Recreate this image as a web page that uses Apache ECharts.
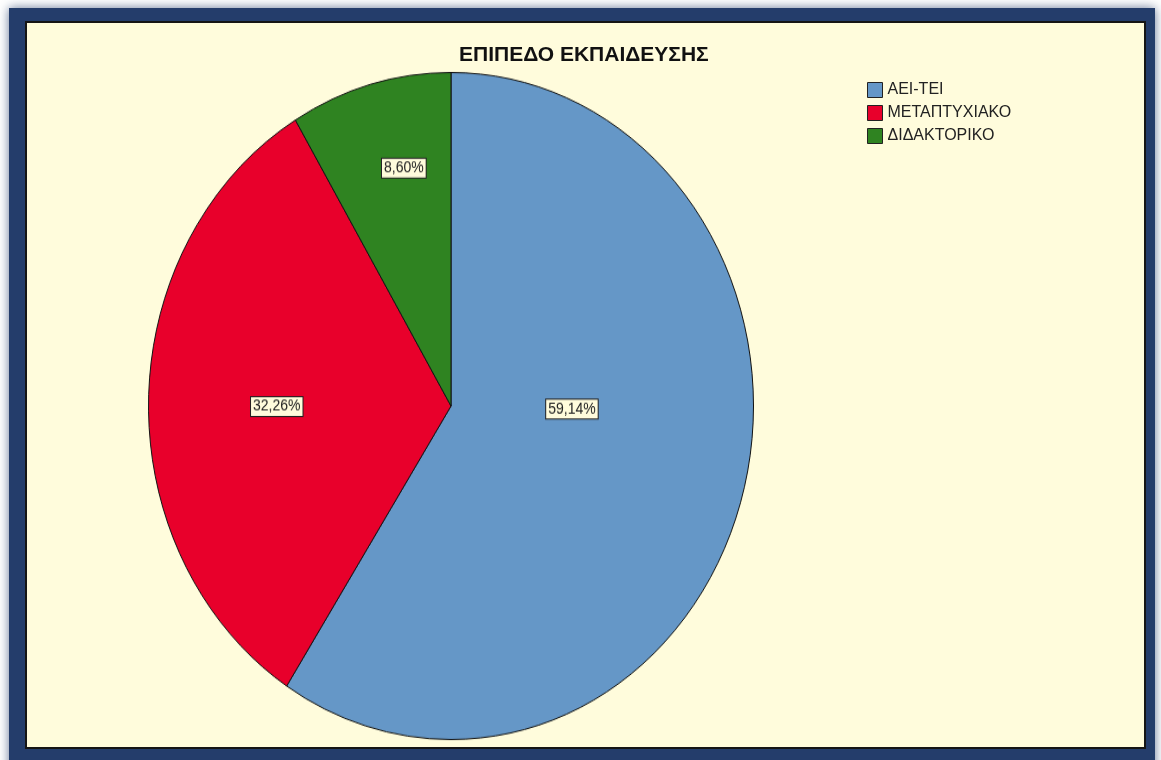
<!DOCTYPE html>
<html>
  <head>
    <meta charset="UTF-8">
    <script src="https://cdn.jsdelivr.net/npm/echarts@6/dist/echarts.min.js"></script>
    <title>ΕΠΙΠΕΔΟ ΕΚΠΑΙΔΕΥΣΗΣ</title>
    <style>
      body { margin: 0; background: #ffffff; }
      #wrap { position: relative; width: 1161px; height: 760px; overflow: hidden; }
      #main, #pie { position: absolute; left: 0; top: 0; width: 1161px; height: 760px; }
      /* SPSS draws the pie as an ellipse, so stretch the pie layer vertically */
      #pie { transform: scaleY(1.1025); transform-origin: 451px 406px; }
    </style>
  </head>
  <body>
    <div id="wrap">
      <div id="main"></div>
      <div id="pie"></div>
    </div>
    <script type="text/javascript">
      var chartTitle = 'ΕΠΙΠΕΔΟ ΕΚΠΑΙΔΕΥΣΗΣ';
      var categories = ['ΑΕΙ-ΤΕΙ', 'ΜΕΤΑΠΤΥΧΙΑΚΟ', 'ΔΙΔΑΚΤΟΡΙΚΟ'];
      var percents = [59.14, 32.26, 8.60];
      var colors = ['#6597c7', '#e8002b', '#2f8321'];

      var font = '"Liberation Sans", Arial, sans-serif';

      function pieData() {
        return categories.map(function (name, i) {
          return { name: name, value: percents[i], itemStyle: { color: colors[i] } };
        });
      }

      // background frame, title and legend
      var mainChart = echarts.init(document.getElementById('main'));
      mainChart.setOption({
        animation: false,
        title: {
          text: chartTitle,
          left: 459,
          top: 45,
          padding: 0,
          textStyle: { fontFamily: font, fontSize: 21, fontWeight: 'bold', color: '#111' }
        },
        legend: {
          orient: 'vertical',
          left: 867,
          top: 82,
          padding: 0,
          itemWidth: 15,
          itemHeight: 15,
          itemGap: 7,
          icon: 'rect',
          selectedMode: false,
          itemStyle: { borderColor: '#222', borderWidth: 1 },
          textStyle: { fontFamily: font, fontSize: 16, color: '#222' },
          data: categories
        },
        graphic: [
          {
            type: 'rect', z: -10,
            shape: { x: 9, y: 8, width: 1146, height: 770 },
            style: { fill: '#243d6b', shadowBlur: 10, shadowColor: 'rgba(36,61,107,0.7)' }
          },
          {
            type: 'rect', z: -9,
            shape: { x: 26, y: 22, width: 1119, height: 726 },
            style: { fill: '#fffcdc', stroke: '#151515', lineWidth: 2 }
          }
        ],
        series: [{
          type: 'pie',
          silent: true,
          center: [451, 406],
          radius: 0,
          label: { show: false },
          data: pieData()
        }]
      });

      // the pie itself
      var pieChart = echarts.init(document.getElementById('pie'));
      pieChart.setOption({
        animation: false,
        series: [{
          type: 'pie',
          center: [451, 406],
          radius: 302.5,
          startAngle: 90,
          clockwise: true,
          itemStyle: { borderColor: '#111', borderWidth: 1 },
          label: {
            show: true,
            position: 'inside',
            formatter: function (p) { return p.value.toFixed(2).replace('.', ',') + '%'; },
            fontFamily: font,
            fontSize: 14,
            color: '#222',
            backgroundColor: '#fffcdc',
            borderColor: '#222',
            borderWidth: 1,
            padding: [2, 2, 1, 2]
          },
          // nudge labels to where SPSS put them
          labelLayout: function (p) {
            var shift = [[-27, -41], [-20, 3], [-6, -67]][p.dataIndex];
            return { dx: shift[0], dy: shift[1] };
          },
          emphasis: { disabled: true },
          data: pieData()
        }]
      });
    </script>
  </body>
</html>
